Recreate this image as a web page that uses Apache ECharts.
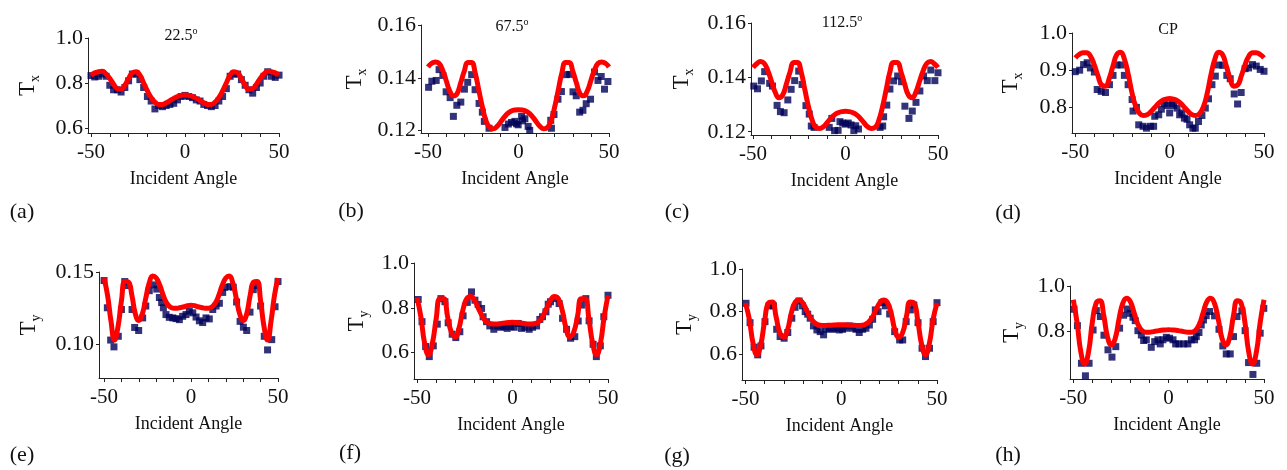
<!DOCTYPE html>
<html>
<head>
<meta charset="utf-8">
<script src="https://cdn.jsdelivr.net/npm/echarts@6/dist/echarts.min.js"></script>
<style>
html, body { margin: 0; background: #fff; }
#chart { width: 1287px; height: 470px; }
</style>
</head>
<body>
<div id="chart"></div>
<script>
// incident angles of the fitted curves
const ANG = [-50, -48, -46, -44, -42, -40, -38, -36, -34, -32, -30, -28, -26, -24, -22, -20, -18, -16, -14, -12, -10, -8, -6, -4, -2, 0,
  2, 4, 6, 8, 10, 12, 14, 16, 18, 20, 22, 24, 26, 28, 30, 32, 34, 36, 38, 40, 42, 44, 46, 48, 50];

const xTicks = [-50, -40, -30, -20, -10, 0, 10, 20, 30, 40, 50];
const xLabels = [-50, 0, 50];

// fitted (red) curves
const fitA = [0.835, 0.845, 0.85, 0.852, 0.84, 0.82, 0.795, 0.775, 0.772, 0.79, 0.82, 0.845, 0.85, 0.835, 0.80, 0.765, 0.735, 0.715, 0.705, 0.705, 0.712, 0.722, 0.732, 0.74, 0.745, 0.747,
  0.745, 0.74, 0.732, 0.722, 0.712, 0.705, 0.705, 0.715, 0.735, 0.765, 0.80, 0.835, 0.85, 0.845, 0.82, 0.79, 0.772, 0.775, 0.795, 0.82, 0.84, 0.852, 0.85, 0.845, 0.835];
const fitB = [0.1441, 0.1455, 0.146, 0.1455, 0.143, 0.139, 0.135, 0.1332, 0.134, 0.138, 0.1425, 0.1458, 0.1458, 0.142, 0.1355, 0.129, 0.1238, 0.1212, 0.1207, 0.1215, 0.1232, 0.125, 0.1265, 0.1274, 0.1278, 0.1279,
  0.1278, 0.1274, 0.1265, 0.125, 0.1232, 0.1215, 0.1207, 0.1212, 0.1238, 0.129, 0.1355, 0.142, 0.1458, 0.1458, 0.1425, 0.138, 0.134, 0.1332, 0.135, 0.139, 0.143, 0.1455, 0.146, 0.1455, 0.1441];
const fitC = [0.1436, 0.145, 0.1458, 0.1452, 0.1425, 0.1385, 0.1345, 0.1325, 0.1335, 0.1375, 0.142, 0.1455, 0.1455, 0.142, 0.1355, 0.1292, 0.1242, 0.1216, 0.1212, 0.1218, 0.1233, 0.1249, 0.1262, 0.127, 0.1274, 0.1275,
  0.1274, 0.127, 0.1262, 0.1249, 0.1233, 0.1218, 0.1212, 0.1216, 0.1242, 0.1292, 0.1355, 0.142, 0.1455, 0.1455, 0.142, 0.1375, 0.1335, 0.1325, 0.1345, 0.1385, 0.1425, 0.1452, 0.1458, 0.145, 0.1436];
const fitD = [0.933, 0.942, 0.947, 0.947, 0.938, 0.915, 0.885, 0.86, 0.857, 0.878, 0.912, 0.942, 0.948, 0.93, 0.89, 0.84, 0.803, 0.784, 0.778, 0.78, 0.788, 0.799, 0.81, 0.818, 0.822, 0.824,
  0.822, 0.818, 0.81, 0.799, 0.788, 0.78, 0.778, 0.784, 0.803, 0.84, 0.89, 0.93, 0.948, 0.942, 0.912, 0.878, 0.857, 0.86, 0.885, 0.915, 0.938, 0.947, 0.947, 0.942, 0.933];
const fitE = [0.1458, 0.134, 0.116, 0.103, 0.112, 0.13, 0.1435, 0.143, 0.134, 0.121, 0.1165, 0.121, 0.132, 0.1425, 0.1472, 0.1458, 0.141, 0.134, 0.1285, 0.1258, 0.125, 0.125, 0.1255, 0.126, 0.1268, 0.127,
  0.1268, 0.126, 0.1255, 0.125, 0.125, 0.1258, 0.1285, 0.134, 0.141, 0.1458, 0.1472, 0.1425, 0.132, 0.121, 0.1165, 0.121, 0.134, 0.143, 0.1435, 0.13, 0.112, 0.103, 0.116, 0.134, 0.1458];
const fitF = [0.845, 0.76, 0.64, 0.59, 0.64, 0.75, 0.84, 0.84, 0.76, 0.69, 0.67, 0.71, 0.79, 0.84, 0.85, 0.835, 0.80, 0.765, 0.74, 0.73, 0.728, 0.728, 0.73, 0.732, 0.734, 0.735,
  0.734, 0.732, 0.73, 0.728, 0.728, 0.73, 0.74, 0.765, 0.80, 0.835, 0.85, 0.84, 0.79, 0.71, 0.67, 0.69, 0.76, 0.84, 0.84, 0.75, 0.64, 0.59, 0.64, 0.76, 0.855];
const fitG = [0.84, 0.765, 0.65, 0.597, 0.645, 0.755, 0.84, 0.845, 0.775, 0.70, 0.68, 0.715, 0.795, 0.845, 0.855, 0.84, 0.805, 0.77, 0.748, 0.738, 0.735, 0.735, 0.736, 0.737, 0.738, 0.738,
  0.738, 0.737, 0.736, 0.735, 0.735, 0.738, 0.748, 0.77, 0.805, 0.84, 0.855, 0.845, 0.795, 0.715, 0.68, 0.70, 0.775, 0.845, 0.84, 0.755, 0.645, 0.597, 0.65, 0.765, 0.84];
const fitH = [0.94, 0.84, 0.71, 0.658, 0.71, 0.84, 0.925, 0.935, 0.87, 0.775, 0.742, 0.77, 0.855, 0.925, 0.946, 0.93, 0.88, 0.83, 0.805, 0.797, 0.797, 0.80, 0.803, 0.806, 0.807, 0.808,
  0.807, 0.806, 0.803, 0.80, 0.797, 0.797, 0.805, 0.83, 0.88, 0.93, 0.946, 0.925, 0.855, 0.77, 0.742, 0.775, 0.87, 0.935, 0.925, 0.84, 0.71, 0.658, 0.71, 0.84, 0.94];

// measured (blue squares) [angle, value]
const expA = [[-50,0.833],[-48,0.827],[-46,0.83],[-44,0.84],[-42,0.83],[-40,0.79],[-38,0.77],[-36,0.77],[-34,0.76],[-32,0.78],[-30,0.81],[-28,0.84],[-26,0.84],[-24,0.815],[-22,0.78],[-20,0.74],[-18,0.72],[-16,0.685],[-14,0.70],[-12,0.695],[-10,0.70],[-8,0.705],[-6,0.71],[-4,0.725],[-2,0.74],[0,0.745],
  [2,0.74],[4,0.735],[6,0.725],[8,0.72],[10,0.705],[12,0.70],[14,0.695],[16,0.70],[18,0.72],[20,0.74],[22,0.775],[24,0.83],[26,0.84],[28,0.84],[30,0.815],[32,0.79],[34,0.77],[36,0.755],[38,0.78],[40,0.80],[42,0.83],[44,0.85],[46,0.83],[48,0.825],[50,0.835]];
const expB = [[-49.7,0.1364],[-47.9,0.1387],[-45.5,0.139],[-43.9,0.1431],[-41.8,0.1409],[-40,0.1347],[-37.8,0.1325],[-36,0.1254],[-34.1,0.1296],[-31.9,0.1308],[-29.9,0.1357],[-28.1,0.1383],[-25.9,0.1412],[-24,0.1355],[-21.8,0.1303],[-20,0.127],[-18.9,0.1235],[-16.3,0.1209],
  [-7.5,0.1212],[-5.6,0.1225],[-3.9,0.1231],[-2,0.1235],[-1.1,0.1226],[-0.2,0.1222],[1.7,0.1254],[2.2,0.1237],[3.5,0.1245],[5.3,0.1216],[6.2,0.1201],
  [17.8,0.1239],[18.2,0.1209],[19.6,0.1261],[21.8,0.1319],[23.7,0.1348],[26.4,0.1412],[28.3,0.1413],[30.1,0.1347],[31.9,0.1332],[33.8,0.127],[35.6,0.1277],[37.4,0.1302],[39.8,0.1319],[42,0.1422],[43.9,0.139],[45.7,0.1405],[47.5,0.1357],[49.4,0.1386]];
const expC = [[-49.6,0.1368],[-47.6,0.1358],[-45.5,0.1387],[-43.7,0.1421],[-41,0.1378],[-39.5,0.1368],[-37,0.1297],[-35.2,0.1274],[-33.2,0.127],[-31.2,0.1317],[-29.4,0.1356],[-27.5,0.1388],[-25.3,0.1423],[-23.5,0.1374],[-21.4,0.1296],[-19.6,0.1265],[-18.5,0.1221],[-17,0.1216],
  [-8.8,0.1216],[-7.4,0.1249],[-5.9,0.1204],[-4,0.1205],[-3,0.1237],[-1.5,0.1232],[0,0.1228],[1.5,0.1232],[3,0.1225],[4.5,0.1204],[5.5,0.1222],[7,0.121],
  [18.7,0.1216],[20.1,0.1221],[20.6,0.1255],[22.3,0.1298],[24,0.1357],[26,0.1387],[28.2,0.1405],[30.3,0.1384],[32.1,0.1294],[34.3,0.1249],[36.1,0.1276],[38.1,0.1308],[40.2,0.135],[42.2,0.1405],[44.2,0.1388],[46.1,0.1427],[48.3,0.1388],[50,0.1417]];
const expD = [[-50,0.896],[-47.7,0.90],[-45.6,0.915],[-43.7,0.92],[-42,0.906],[-39.9,0.895],[-38.4,0.848],[-36.3,0.843],[-34,0.84],[-31.9,0.861],[-30,0.886],[-27.9,0.914],[-25.7,0.914],[-24,0.886],[-22,0.861],[-19.9,0.821],[-19.4,0.79],[-17.6,0.80],[-16.4,0.753],[-14.1,0.749],[-12.3,0.744],[-10.2,0.749],[-8.5,0.749],[-7.9,0.776],[-5.8,0.78],[-4.4,0.795],[-2.8,0.81],[-1.4,0.805],[0,0.785],
  [1.2,0.81],[2.1,0.805],[3.9,0.798],[5.3,0.78],[6.5,0.785],[7.8,0.771],[9.2,0.768],[10.6,0.753],[12.3,0.744],[13.6,0.744],[15.3,0.762],[17.1,0.778],[18.9,0.798],[20.6,0.823],[22.4,0.861],[24.2,0.884],[25.9,0.914],[28.2,0.913],[30.3,0.886],[32.1,0.877],[34.2,0.836],[36,0.809],[37.9,0.84],[40,0.904],[41.8,0.906],[43.9,0.915],[45.9,0.911],[48,0.902],[50,0.897]];
const expE = [[-50,0.1441],[-48.1,0.1253],[-46.2,0.103],[-44.3,0.0983],[-41.8,0.1056],[-40,0.1241],[-38.1,0.1434],[-36.2,0.1406],[-33.9,0.1241],[-32.4,0.1117],[-30.1,0.1096],[-27.8,0.1183],[-26,0.1265],[-24,0.1371],[-21.6,0.1411],[-19.7,0.1382],[-18.2,0.1324],[-16.9,0.1289],[-15.9,0.1253],[-14.4,0.1206],[-12.5,0.1187],[-10.5,0.1183],[-8.6,0.1178],[-6.7,0.1171],[-4.8,0.1194],[-2.9,0.1206],[-1,0.123],
  [1,0.1218],[2.9,0.1189],[4.8,0.1163],[6.7,0.1151],[8.6,0.1183],[10.5,0.1176],[12.5,0.1241],[14.4,0.1265],[16.3,0.1284],[18.2,0.1359],[19.5,0.1394],[22.4,0.1399],[24.3,0.1395],[26.2,0.1293],[28.2,0.1159],[30.1,0.1119],[32,0.1096],[33.9,0.1223],[35.8,0.1378],[38.1,0.1406],[40,0.1265],[42.1,0.1056],[44,0.0962],[46.4,0.1033],[48.3,0.126],[50,0.1434]];
const expF = [[-49.4,0.837],[-47.4,0.738],[-45.5,0.627],[-43.6,0.582],[-41.5,0.63],[-39.4,0.727],[-37.5,0.841],[-35.4,0.827],[-33.7,0.733],[-31.6,0.682],[-29.7,0.667],[-27.6,0.693],[-25.9,0.764],[-23.7,0.824],[-21.5,0.871],[-19.7,0.834],[-18,0.815],[-16.2,0.797],[-15.4,0.76],[-13.6,0.738],[-11.9,0.719],[-9.8,0.704],[-8,0.719],[-6.3,0.713],[-4.5,0.716],[-2.8,0.708],[-0.9,0.716],
  [0.9,0.713],[3,0.73],[4.7,0.708],[6.5,0.713],[8.7,0.704],[10.5,0.713],[12.6,0.719],[14.3,0.748],[15.7,0.76],[17.5,0.782],[18.7,0.816],[19.9,0.827],[22.2,0.841],[24.4,0.819],[26.2,0.753],[28.3,0.704],[30.4,0.664],[32.6,0.671],[34.4,0.741],[36.1,0.812],[38.4,0.841],[40.1,0.742],[42.2,0.637],[43.9,0.582],[46,0.63],[47.8,0.76],[50,0.856]];
const expG = [[-49.7,0.839],[-47.6,0.748],[-45.5,0.633],[-43.6,0.597],[-41.9,0.639],[-39.8,0.753],[-37.7,0.827],[-35.4,0.827],[-33.7,0.717],[-31.9,0.683],[-29.8,0.675],[-27.9,0.702],[-25.8,0.769],[-24.1,0.82],[-22,0.85],[-20.2,0.827],[-18.8,0.80],[-17.5,0.788],[-16.2,0.769],[-14.5,0.733],[-12.7,0.714],[-11,0.706],[-9.2,0.691],[-8,0.717],[-6.3,0.722],[-4.5,0.717],[-2.8,0.722],[-1,0.714],
  [0.7,0.717],[2.4,0.722],[4.2,0.733],[5.9,0.722],[7.7,0.717],[9.4,0.702],[11.2,0.717],[12.9,0.722],[14.7,0.737],[16.4,0.764],[17.8,0.808],[19.2,0.80],[21.3,0.842],[23,0.827],[25.3,0.789],[27.9,0.706],[30.5,0.667],[32.1,0.667],[33.9,0.753],[36.1,0.808],[37.9,0.831],[40.1,0.748],[42.2,0.628],[44,0.589],[46.1,0.628],[48,0.753],[50,0.842]];
const expH = [[-49.6,0.898],[-47.8,0.826],[-45.7,0.661],[-43.6,0.606],[-41.7,0.661],[-39.6,0.807],[-37.9,0.892],[-35.8,0.866],[-33.9,0.784],[-31.8,0.72],[-29.7,0.688],[-27.7,0.734],[-25.7,0.815],[-23.6,0.872],[-21.6,0.899],[-20.1,0.88],[-18.7,0.863],[-17.5,0.848],[-16.1,0.804],[-14.3,0.785],[-13.1,0.761],[-11.7,0.764],[-9.1,0.731],[-7.3,0.756],[-5.6,0.764],[-4.4,0.746],[-3,0.764],[-1.2,0.775],
  [0.5,0.771],[2.3,0.764],[3.7,0.746],[5.4,0.746],[7.9,0.746],[10.1,0.746],[11.9,0.764],[13.6,0.764],[14.5,0.778],[15.9,0.796],[17.1,0.829],[18.3,0.851],[19.7,0.87],[21.5,0.888],[24.1,0.869],[26.4,0.81],[28.4,0.737],[30.2,0.702],[32.3,0.702],[34,0.778],[35.8,0.866],[38.4,0.891],[40.1,0.804],[41.9,0.664],[44.2,0.612],[46.2,0.661],[48,0.793],[49.9,0.902]];

// y tick labels per panel
const yTicksA = [0.6, 0.8, 1.0];
const yTicksB = [0.12, 0.14, 0.16];
const yTicksD = [0.8, 0.9, 1.0];
const yTicksE = [0.10, 0.15];
const yTicksH = [0.8, 1.0];

const titles = ['22.5', '67.5', '112.5', 'CP'];
const letters = ['(a)', '(b)', '(c)', '(d)', '(e)', '(f)', '(g)', '(h)'];

const serif = '"Liberation Serif", "Times New Roman", serif';
const ink = '#111';

const panels = [
  { fit: fitA, exp: expA, ticks: yTicksA, dec: 1, sub: 'x', xMin: -51.6, yMin: 0.578, yMax: 1.0, gap: 46, box: [88, 38, 191, 95] },
  { fit: fitB, exp: expB, ticks: yTicksB, dec: 2, sub: 'x', xMin: -53.9, yMin: 0.1191, yMax: 0.16, gap: 52, box: [421, 25, 188, 108] },
  { fit: fitC, exp: expC, ticks: yTicksB, dec: 2, sub: 'x', xMin: -51.1, yMin: 0.1188, yMax: 0.16, gap: 55, box: [751, 23, 187, 112] },
  { fit: fitD, exp: expD, ticks: yTicksD, dec: 1, sub: 'x', xMin: -51.75, yMin: 0.731, yMax: 1.0, gap: 47, box: [1072, 33, 192, 100] },
  { fit: fitE, exp: expE, ticks: yTicksE, dec: 2, sub: 'y', xMin: -52.9, yMin: 0.0768, yMax: 0.15, gap: 56, box: [99, 272, 179, 106] },
  { fit: fitF, exp: expF, ticks: yTicksA, dec: 1, sub: 'y', xMin: -51.6, yMin: 0.482, yMax: 1.0, gap: 43, box: [414, 263, 194, 116] },
  { fit: fitG, exp: expG, ticks: yTicksA, dec: 1, sub: 'y', xMin: -51.8, yMin: 0.479, yMax: 1.0, gap: 43, box: [742, 269, 195, 111] },
  { fit: fitH, exp: expH, ticks: yTicksH, dec: 1, sub: 'y', xMin: -51.7, yMin: 0.592, yMax: 1.0, gap: 44, box: [1070, 286, 194, 93] }
];

const titlePos = [[181, 35], [512, 26], [842, 22], [1168, 30]];
const letterPos = [[22, 212], [351, 211], [677, 212], [1008, 213], [22, 455], [350, 453], [677, 456], [1008, 455]];

const axisColor = '#222';
const grid = [], xAxis = [], yAxis = [], series = [];

panels.forEach((p, i) => {
  grid.push({ left: p.box[0], top: p.box[1], width: p.box[2], height: p.box[3], outerBoundsMode: 'none' });
  xAxis.push({
    gridIndex: i, type: 'value', min: p.xMin, max: 50,
    axisLine: { show: true, onZero: false, lineStyle: { color: axisColor, width: 1 } },
    axisTick: { show: true, customValues: xTicks, length: 4, lineStyle: { color: axisColor } },
    axisLabel: { customValues: xLabels, margin: 9, color: ink, fontFamily: serif, fontSize: 21 },
    splitLine: { show: false },
    name: 'Incident Angle', nameLocation: 'middle', nameGap: 37,
    nameTextStyle: { fontFamily: serif, fontSize: 18, color: ink }
  });
  yAxis.push({
    gridIndex: i, type: 'value', min: p.yMin, max: p.yMax,
    axisLine: { show: true, onZero: false, lineStyle: { color: axisColor, width: 1 } },
    axisTick: { show: true, customValues: p.ticks, length: 3, lineStyle: { color: axisColor } },
    axisLabel: { customValues: p.ticks, margin: 5, color: ink, fontFamily: serif, fontSize: 22,
      formatter: v => v.toFixed(p.dec) },
    splitLine: { show: false },
    name: '{t|T}{s|' + p.sub + '}', nameLocation: 'middle', nameRotate: 90, nameGap: p.gap,
    nameTextStyle: {
      color: ink, fontFamily: serif,
      rich: {
        t: { fontFamily: serif, fontSize: 23, lineHeight: 26, verticalAlign: 'top', color: ink },
        s: { fontFamily: serif, fontSize: 14, lineHeight: 13, verticalAlign: 'bottom', color: ink }
      }
    }
  });
  series.push({
    type: 'line', xAxisIndex: i, yAxisIndex: i,
    data: ANG.map((a, k) => [a, p.fit[k]]),
    smooth: true, symbol: 'none', silent: true,
    lineStyle: { color: '#ff0000', width: 5 }
  });
  series.push({
    type: 'scatter', xAxisIndex: i, yAxisIndex: i,
    data: p.exp, symbol: 'rect', symbolSize: 7,
    itemStyle: { color: '#000058' }
  });
});

const graphic = [];
titles.forEach((t, i) => {
  const text = t === 'CP' ? t : '{n|' + t + '}{s|o}';
  graphic.push({
    type: 'text', x: titlePos[i][0], y: titlePos[i][1],
    style: {
      text: text, fill: ink, fontFamily: serif, fontSize: 16, align: 'center', verticalAlign: 'middle',
      rich: {
        n: { fontFamily: serif, fontSize: 16, lineHeight: 18, verticalAlign: 'bottom', fill: ink },
        s: { fontFamily: serif, fontSize: 10, lineHeight: 10, verticalAlign: 'top', fill: ink }
      }
    }
  });
});
letters.forEach((t, i) => {
  graphic.push({
    type: 'text', x: letterPos[i][0], y: letterPos[i][1],
    style: { text: t, fill: ink, fontFamily: serif, fontSize: 22, align: 'center', verticalAlign: 'middle' }
  });
});

const chart = echarts.init(document.getElementById('chart'));
chart.setOption({
  animation: false,
  backgroundColor: '#fff',
  grid: grid,
  xAxis: xAxis,
  yAxis: yAxis,
  series: series,
  graphic: graphic
});
window.addEventListener('resize', () => chart.resize());
</script>
</body>
</html>
